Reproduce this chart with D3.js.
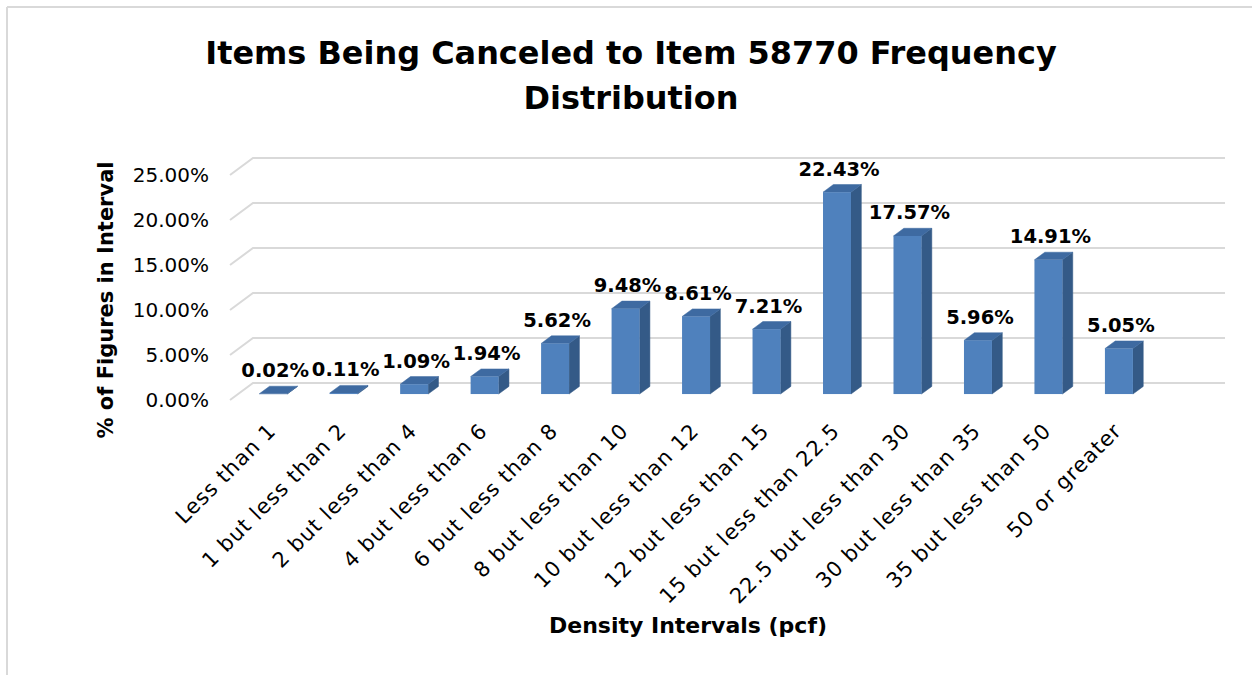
<!DOCTYPE html>
<html>
<head>
<meta charset="utf-8">
<script src="https://cdn.jsdelivr.net/npm/d3@7"></script>
<style>
  html, body { margin: 0; padding: 0; background: #ffffff; }
  svg { display: block; }
  text { font-family: "Century Gothic", "DejaVu Sans", sans-serif; fill: #000; }
</style>
</head>
<body>
<svg id="chart" width="1252" height="675"></svg>
<script>
const titleLines = ["Items Being Canceled to Item 58770 Frequency", "Distribution"];
const yAxisTitle = "% of Figures in Interval";
const xAxisTitle = "Density Intervals (pcf)";

const categories = [
  "Less than 1", "1 but less than 2", "2 but less than 4", "4 but less than 6",
  "6 but less than 8", "8 but less than 10", "10 but less than 12", "12 but less than 15",
  "15 but less than 22.5", "22.5 but less than 30", "30 but less than 35",
  "35 but less than 50", "50 or greater"
];
const values = [0.0002, 0.0011, 0.0109, 0.0194, 0.0562, 0.0948, 0.0861, 0.0721,
                0.2243, 0.1757, 0.0596, 0.1491, 0.0505];
const yTicks = [0, 0.05, 0.10, 0.15, 0.20, 0.25];

const svg = d3.select("#chart");
const W = 1252, H = 675;

// chart border (top and left visible)
svg.append("line").attr("x1", 7).attr("y1", 7).attr("x2", W).attr("y2", 7)
  .attr("stroke", "#d9d9d9").attr("stroke-width", 2);
svg.append("line").attr("x1", 7).attr("y1", 7).attr("x2", 7).attr("y2", H)
  .attr("stroke", "#d9d9d9").attr("stroke-width", 2);

// 3D oblique projection
const DX = 23, DY = -17;          // full depth vector
const barD0 = 0.35, barD1 = 0.80;  // bar depth span

const yF = d3.scaleLinear().domain([0, 0.25]).range([400, 175]);
const x = d3.scaleBand().domain(categories).range([230, 1146])
  .paddingInner(0.603).paddingOuter(0.3);

const wallLeft = 230, wallRight = 1202;

// gridlines: side wall diagonal + back wall
const grid = svg.append("g");
yTicks.forEach(t => {
  const yf = yF(t);
  grid.append("path")
    .attr("d", `M${wallLeft},${yf} L${wallLeft + DX},${yf + DY} L${wallRight + DX},${yf + DY}`)
    .attr("fill", "none").attr("stroke", "#d9d9d9").attr("stroke-width", 2);
});

// y axis labels
const yAxis = d3.axisLeft(yF).tickValues(yTicks).tickFormat(d3.format(".2%"))
  .tickSize(0).tickPadding(0);
const yg = svg.append("g").attr("transform", "translate(209,0)").call(yAxis);
yg.select(".domain").remove();
yg.selectAll("text").style("font-family", '"Century Gothic", "DejaVu Sans", sans-serif')
  .style("font-size", "20px").attr("fill", "#000");

// bars
const ddx = (barD1 - barD0) * DX, ddy = (barD1 - barD0) * DY;
const bars = svg.append("g");
categories.forEach((c, i) => {
  const v = values[i];
  const x0 = x(c) + barD0 * DX;
  const w = x.bandwidth();
  const yb = yF(0) + barD0 * DY;
  const yt = yF(v) + barD0 * DY;
  const g = bars.append("g");
  // side
  g.append("path")
    .attr("d", `M${x0 + w},${yt} L${x0 + w + ddx},${yt + ddy} L${x0 + w + ddx},${yb + ddy} L${x0 + w},${yb} Z`)
    .attr("fill", "#345a87").attr("stroke", "#345a87").attr("stroke-width", 0.5);
  // top
  g.append("path")
    .attr("d", `M${x0},${yt} L${x0 + ddx},${yt + ddy} L${x0 + w + ddx},${yt + ddy} L${x0 + w},${yt} Z`)
    .attr("fill", "#3e6aa1").attr("stroke", "#3e6aa1").attr("stroke-width", 0.5);
  // front
  if (yb - yt > 0.3) {
    g.append("rect").attr("x", x0).attr("y", yt).attr("width", w).attr("height", yb - yt)
      .attr("fill", "#4f81bd");
  }
  // data label
  svg.append("text")
    .attr("x", x0 + w / 2 + 2).attr("y", yt + ddy - 9)
    .attr("text-anchor", "middle")
    .style("font-size", "19.5px").style("font-weight", "bold")
    .text(d3.format(".2%")(v));
  // category label
  const ax = x0 + w / 2 + 4, ay = 432;
  svg.append("text")
    .attr("transform", `translate(${ax},${ay}) rotate(-45)`)
    .attr("text-anchor", "end")
    .style("font-size", "21px").style("letter-spacing", "1px")
    .text(c);
});

// titles
function fitText(sel, maxSize, targetWidth) {
  sel.style("font-size", maxSize + "px");
  const len = sel.node().getComputedTextLength();
  if (len > targetWidth) sel.style("font-size", (maxSize * targetWidth / len) + "px");
}
const t1 = svg.append("text").attr("x", 631).attr("y", 64).attr("text-anchor", "middle")
  .style("font-weight", "bold").text(titleLines[0]);
fitText(t1, 36, 852);
const t2 = svg.append("text").attr("x", 631).attr("y", 109).attr("text-anchor", "middle")
  .style("font-weight", "bold").style("font-size", t1.style("font-size")).text(titleLines[1]);

svg.append("text").attr("transform", "translate(113,300) rotate(-90)")
  .attr("text-anchor", "middle").style("font-weight", "bold").style("font-size", "21px")
  .text(yAxisTitle);

svg.append("text").attr("x", 688).attr("y", 633).attr("text-anchor", "middle")
  .style("font-weight", "bold").style("font-size", "22px").text(xAxisTitle);
</script>
</body>
</html>
